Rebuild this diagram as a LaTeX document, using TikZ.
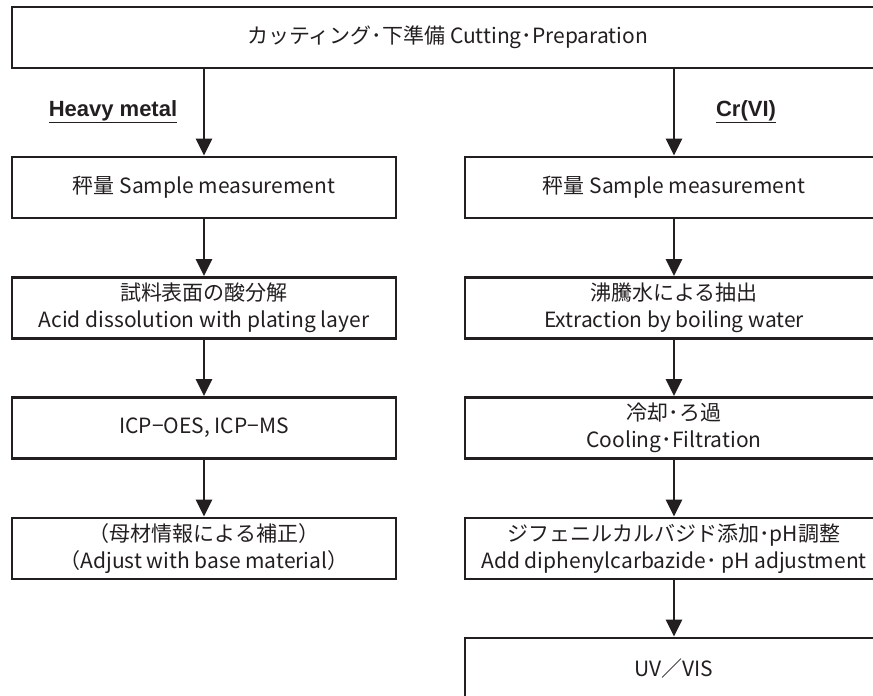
\documentclass[tikz,border=0pt]{standalone}
\usepackage{fontspec}
\setmainfont{Noto Sans CJK JP}
\newfontfamily\labelfont{Liberation Sans}
\usetikzlibrary{arrows.meta}
\definecolor{ink}{RGB}{35,31,32}
\tikzset{
  stepbox/.style={draw=ink, text=ink, line width=2.8pt, minimum height=61pt,
    inner sep=0pt, align=center, font=\fontsize{21}{27}\selectfont},
  leftbox/.style={stepbox, minimum width=384pt},
  rightbox/.style={stepbox, minimum width=418pt},
  headlabel/.style={text=ink, inner sep=0pt, font=\labelfont\bfseries\fontsize{22}{24}\selectfont},
  flow/.style={draw=ink, line width=2.5pt, -{Triangle[width=16pt,length=17pt]}},
}
\begin{document}
\begin{tikzpicture}[x=1pt, y=-1pt]
  \useasboundingbox (0,0) rectangle (873,696);
  \clip (0,0) rectangle (873,696);
  \def\xl{204}  \def\xr{674}
  % common step
  \node[stepbox, minimum width=871pt] (cut) at (447.5,37.5) {カッティング･下準備 Cutting･Preparation};
  \node[headlabel] (hmlabel) at (113,112) {\underline{Heavy metal}};
  \node[headlabel] (crlabel) at (746,112) {\underline{Cr(VI)}};
  % heavy metal column
  \node[leftbox] (hm1) at (\xl,187.5) {秤量 Sample measurement};
  \node[leftbox] (hm2) at (\xl,308) {試料表面の酸分解\\Acid dissolution with plating layer};
  \node[leftbox] (hm3) at (\xl,428) {ICP−OES, ICP−MS};
  \node[leftbox] (hm4) at (\xl,548.5) {（母材情報による補正）\\（Adjust with base material）};
  % Cr(VI) column
  \node[rightbox] (cr1) at (\xr,187.5) {秤量 Sample measurement};
  \node[rightbox] (cr2) at (\xr,308) {沸騰水による抽出\\Extraction by boiling water};
  \node[rightbox] (cr3) at (\xr,428) {冷却･ろ過\\Cooling･Filtration};
  \node[rightbox] (cr4) at (\xr,548.5) {ジフェニルカルバジド添加･pH調整\\Add diphenylcarbazide･ pH adjustment};
  \node[rightbox] (cr5) at (\xr,668.5) {UV／VIS};
  % arrows
  \draw[flow] (cut.south -| hm1.north) -- (hm1.north);
  \draw[flow] (cut.south -| cr1.north) -- (cr1.north);
  \foreach \a/\b in {hm1/hm2,hm2/hm3,hm3/hm4,cr1/cr2,cr2/cr3,cr3/cr4,cr4/cr5}
    \draw[flow] (\a.south) -- (\b.north);
\end{tikzpicture}
\end{document}
